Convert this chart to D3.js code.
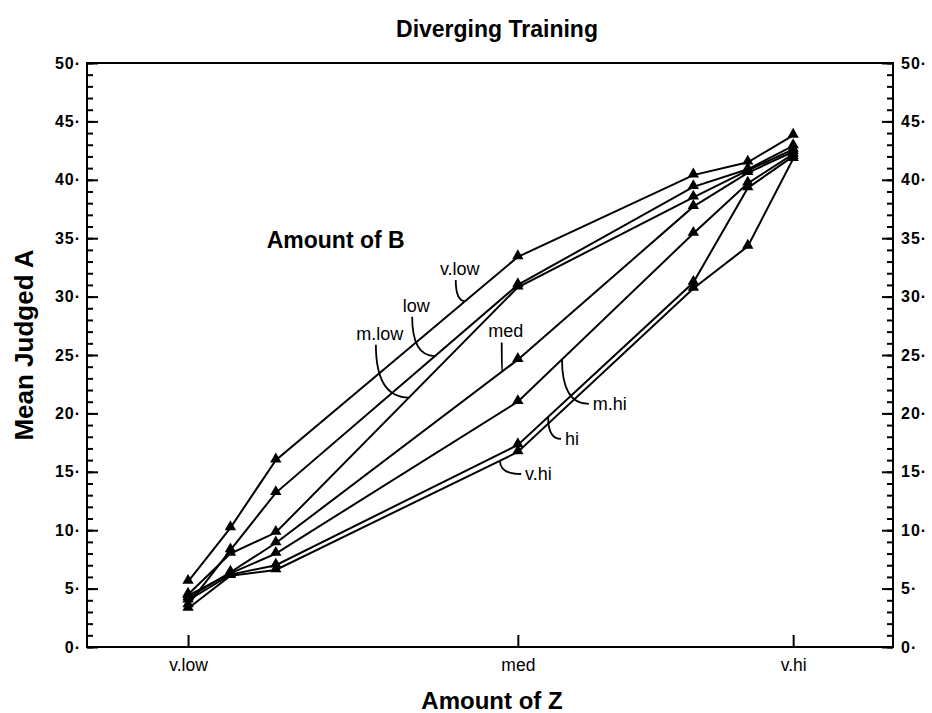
<!DOCTYPE html>
<html>
<head>
<meta charset="utf-8">
<script src="https://cdn.jsdelivr.net/npm/d3@7"></script>
<style>
	body { margin: 0; background: #fff; }
	text { font-family: "Liberation Sans", Arial, sans-serif; fill: #000; }
</style>
</head>
<body>
<svg id="chart" width="932" height="713"></svg>
<script>
// amount of Z (x), on an arbitrary numeric scale
var zLevels = [0, 7, 14.5, 54.5, 83.5, 92.5, 100];
var zTicks = [0, 54.5, 100];
var zTickLabels = ["v.low", "med", "v.hi"];

// amount of B (one line each)
var bLevels = ["v.low", "low", "m.low", "med", "m.hi", "hi", "v.hi"];
var vLowB = [5.6, 10.2, 16.0, 33.4, 40.4, 41.5, 43.8];
var lowB  = [3.6,  8.3, 13.2, 31.0, 39.4, 40.9, 42.9];
var mLowB = [4.5,  8.0,  9.8, 30.8, 38.5, 40.8, 42.6];
var medB  = [4.2,  6.4,  8.9, 24.6, 37.7, 40.6, 42.4];
var mHiB  = [4.4,  6.3,  8.0, 21.0, 35.4, 39.7, 42.2];
var hiB   = [4.0,  6.2,  7.0, 17.3, 31.2, 39.3, 42.0];
var vHiB  = [3.3,  6.1,  6.6, 16.7, 30.7, 34.3, 41.8];
var series = [vLowB, lowB, mLowB, medB, mHiB, hiB, vHiB];

// line labels: text position (z, value), where the leader meets the line, above/below
var labelZ    = [44.9, 37.7, 31.7, 52.5, 66.9, 62.3, 55.7];
var labelV    = [31.85, 28.7, 26.3, 26.5, 20.3, 17.3, 14.3];
var leaderZ   = [45.8, 40.8, 36.5, 51.9, 61.8, 59.5, 51.55];
var labelSide = ["above", "above", "above", "above", "below", "below", "below"];

var width = 932, height = 713;
var margin = { left: 87, right: 39, top: 63, bottom: 66 };

var svg = d3.select("#chart");

var x = d3.scaleLinear().domain([-16.7, 116.5]).range([margin.left, width - margin.right]);
var y = d3.scaleLinear().domain([0, 50]).range([height - margin.bottom, margin.top]);

var x0 = margin.left, x1 = width - margin.right, y0 = y(0), y1 = y(50);

// minor ticks, both sides
svg.append("g").attr("transform", "translate(" + x0 + ",0)")
	.call(d3.axisLeft(y).tickValues(d3.range(0, 51, 1)).tickSize(-6).tickFormat(""))
	.call(function (g) { g.select(".domain").remove(); });
svg.append("g").attr("transform", "translate(" + x1 + ",0)")
	.call(d3.axisRight(y).tickValues(d3.range(0, 51, 1)).tickSize(-6).tickFormat(""))
	.call(function (g) { g.select(".domain").remove(); });

// major ticks with labels
var fmt = function (d) { return d + "\u00b7"; };
var left = svg.append("g").attr("transform", "translate(" + x0 + ",0)")
	.call(d3.axisLeft(y).tickValues(d3.range(0, 51, 5)).tickSize(-11).tickPadding(6).tickFormat(fmt));
var right = svg.append("g").attr("transform", "translate(" + x1 + ",0)")
	.call(d3.axisRight(y).tickValues(d3.range(0, 51, 5)).tickSize(-11).tickPadding(8).tickFormat(fmt));
[left, right].forEach(function (g) {
	g.select(".domain").remove();
	g.selectAll("text").attr("font-size", 16).attr("font-weight", "bold")
		.attr("letter-spacing", 1).attr("font-family", "'Liberation Sans', Arial, sans-serif");
});

var bottom = svg.append("g").attr("transform", "translate(0," + y0 + ")")
	.call(d3.axisBottom(x).tickValues(zTicks).tickSize(-12).tickPadding(12)
		.tickFormat(function (d, i) { return zTickLabels[i]; }));
bottom.select(".domain").remove();
bottom.selectAll("text").attr("font-size", 17.5).attr("font-family", "'Liberation Sans', Arial, sans-serif");

svg.selectAll(".tick line").attr("stroke", "#000").attr("stroke-width", 2);

// frame
svg.append("rect")
	.attr("x", x0).attr("y", y1).attr("width", x1 - x0).attr("height", y0 - y1)
	.attr("fill", "none").attr("stroke", "#000").attr("stroke-width", 2);

// lines
var line = d3.line()
	.x(function (d, i) { return x(zLevels[i]); })
	.y(function (d) { return y(d); });

svg.append("g").selectAll("path").data(series).join("path")
	.attr("d", line).attr("fill", "none").attr("stroke", "#000").attr("stroke-width", 2);

var tri = d3.symbol().type(d3.symbolTriangle).size(56);
series.forEach(function (s) {
	svg.append("g").selectAll("path").data(s).join("path")
		.attr("d", tri)
		.attr("transform", function (d, i) { return "translate(" + x(zLevels[i]) + "," + (y(d) - 1) + ")"; })
		.attr("fill", "#000");
});

// labels with curved leaders
function valueAt(s, z) {
	for (var i = 0; i < zLevels.length - 1; i++) {
		if (z >= zLevels[i] && z <= zLevels[i + 1]) {
			var t = (z - zLevels[i]) / (zLevels[i + 1] - zLevels[i]);
			return s[i] + t * (s[i + 1] - s[i]);
		}
	}
	return s[s.length - 1];
}

bLevels.forEach(function (name, i) {
	var tx = x(labelZ[i]), ty = y(labelV[i]);
	var lx = x(leaderZ[i]), ly = y(valueAt(series[i], leaderZ[i]));
	var t = svg.append("text").attr("x", tx).attr("y", ty).attr("font-size", 18).text(name);
	var p;
	if (labelSide[i] == "above") {
		t.attr("text-anchor", "middle");
		var sx = tx - 4, sy = ty + 5;
		p = "M" + sx + "," + sy + "Q" + sx + "," + ly + " " + lx + "," + ly;
	} else {
		t.attr("text-anchor", "start");
		var ex = tx - 4, ey = ty - 6;
		p = "M" + lx + "," + ly + "Q" + lx + "," + ey + " " + ex + "," + ey;
	}
	svg.append("path").attr("d", p).attr("fill", "none").attr("stroke", "#000").attr("stroke-width", 1.8);
});

svg.append("text").attr("x", x(13.0)).attr("y", y(34.2))
	.attr("font-size", 23).attr("font-weight", "bold").text("Amount of B");

// titles
svg.append("text").attr("x", 497).attr("y", 37).attr("text-anchor", "middle")
	.attr("font-size", 23).attr("font-weight", "bold").text("Diverging Training");

svg.append("text").attr("x", 492).attr("y", 709).attr("text-anchor", "middle")
	.attr("font-size", 24).attr("font-weight", "bold").text("Amount of Z");

svg.append("text").attr("transform", "translate(33,345) rotate(-90)").attr("text-anchor", "middle")
	.attr("font-size", 26).attr("font-weight", "bold").text("Mean Judged A");
</script>
</body>
</html>
